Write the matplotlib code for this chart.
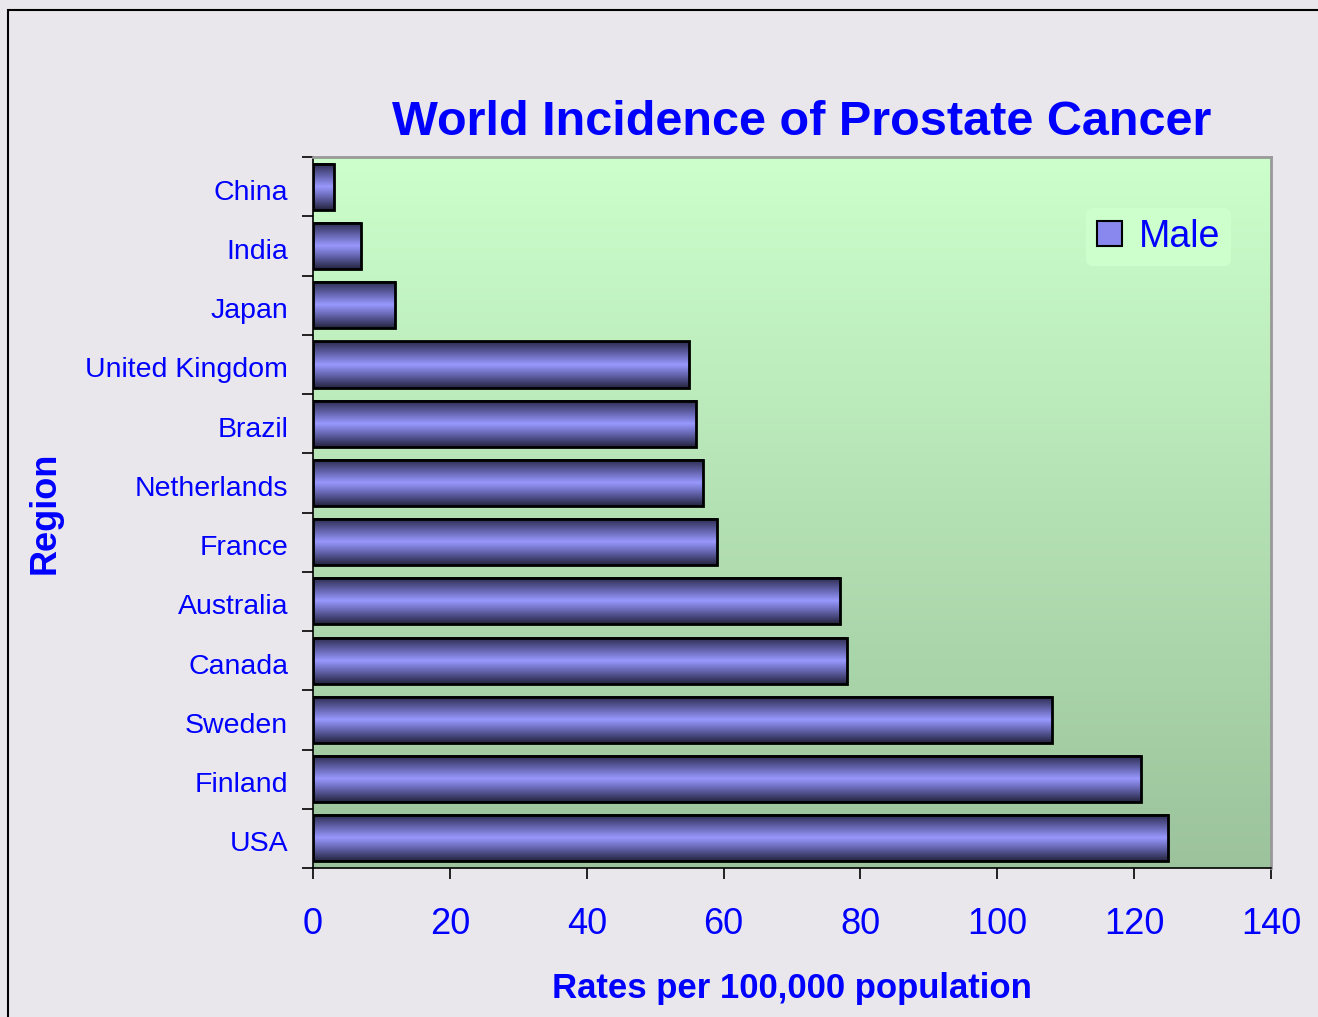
import matplotlib.pyplot as plt
import numpy as np
from matplotlib.colors import LinearSegmentedColormap
from matplotlib.patches import Rectangle
from matplotlib.transforms import ScaledTranslation

plt.rcParams['font.family'] = ['Liberation Sans', 'DejaVu Sans']

# Data
regions = ['China', 'India', 'Japan', 'United Kingdom', 'Brazil', 'Netherlands',
           'France', 'Australia', 'Canada', 'Sweden', 'Finland', 'USA']
rates = [3, 7, 12, 55, 56, 57, 59, 77, 78, 108, 121, 125]

blue = '#0000FF'
fig = plt.figure(figsize=(13.18, 10.17), dpi=100, facecolor='#E9E7EC')
ax = fig.add_axes([0.2375, 0.1465, 0.7268, 0.6991])

# background gradient (light green top -> darker green bottom)
bg = LinearSegmentedColormap.from_list('bg', ['#9CC39C', '#CCFFCC'])
ax.imshow(np.linspace(0, 1, 256).reshape(-1, 1), cmap=bg, origin='lower',
          extent=[0, 1, 0, 1], transform=ax.transAxes, aspect='auto', zorder=0)

# bars with vertical shading
shade = LinearSegmentedColormap.from_list(
    'bar', [(0.0, '#24243F'), (0.3, '#6A6AB8'), (0.5, '#9999FF'),
            (0.7, '#6A6AB8'), (1.0, '#2A2A4C')])
grad = np.linspace(0, 1, 128).reshape(-1, 1)
h = 0.78
ypos = np.arange(len(regions))[::-1]
for y, v in zip(ypos, rates):
    ax.imshow(grad, cmap=shade, extent=[0, v, y - h / 2, y + h / 2],
              aspect='auto', origin='lower', zorder=2)
    ax.add_patch(Rectangle((0, y - h / 2), v, h, fill=False,
                           edgecolor='black', lw=2, zorder=3))

ax.set_xlim(0, 140)
ax.set_ylim(-0.5, len(regions) - 0.5)
ax.set_xticks(range(0, 141, 20))
ax.tick_params(axis='x', direction='out', length=8, width=1.2, colors='black',
               labelcolor=blue, labelsize=26, pad=20)
ax.set_yticks(ypos)
ax.set_yticklabels(regions)
ax.set_yticks(np.arange(-0.5, len(regions), 1), minor=True)
ax.tick_params(axis='y', which='major', length=0, labelcolor=blue,
               labelsize=20.5, pad=18)
ax.tick_params(axis='y', which='minor', direction='out', length=8, width=1.2)
shift = ScaledTranslation(0, -3 / 100, fig.dpi_scale_trans)
for lbl in ax.get_yticklabels():
    lbl.set_va('center_baseline')
    lbl.set_transform(lbl.get_transform() + shift)

for s in ['top', 'right']:
    ax.spines[s].set_color('#999999')
    ax.spines[s].set_linewidth(2)
for s in ['left', 'bottom']:
    ax.spines[s].set_color('black')
    ax.spines[s].set_linewidth(1.2)

ax.set_xlabel('Rates per 100,000 population', color=blue, fontsize=25,
              fontweight='bold', labelpad=22)
ax.set_ylabel('Region', color=blue, fontsize=26, fontweight='bold', labelpad=16)
ax.set_title('World Incidence of Prostate Cancer', color=blue, fontsize=35,
             fontweight='bold', pad=16, x=0.51)

# legend
handle = Rectangle((0, 0), 1, 1, facecolor='#8888EE', edgecolor='black', lw=1.5)
leg = ax.legend([handle], ['Male'], loc='upper right', bbox_to_anchor=(0.978, 0.955),
                fontsize=27, frameon=True, handlelength=0.65, handleheight=0.65,
                handletextpad=0.45, borderpad=0.3)
leg.get_frame().set_facecolor('#CCFFCC')
leg.get_frame().set_edgecolor('none')
leg.get_frame().set_alpha(1)
for t in leg.get_texts():
    t.set_color(blue)

# outer border
fig.patches.append(Rectangle((8 / 1318, -0.05), 1.1, 1 - 10 / 1017 + 0.05,
                             transform=fig.transFigure, fill=False,
                             edgecolor='black', lw=1.5))

fig.savefig('out.png', dpi=100, facecolor=fig.get_facecolor())
